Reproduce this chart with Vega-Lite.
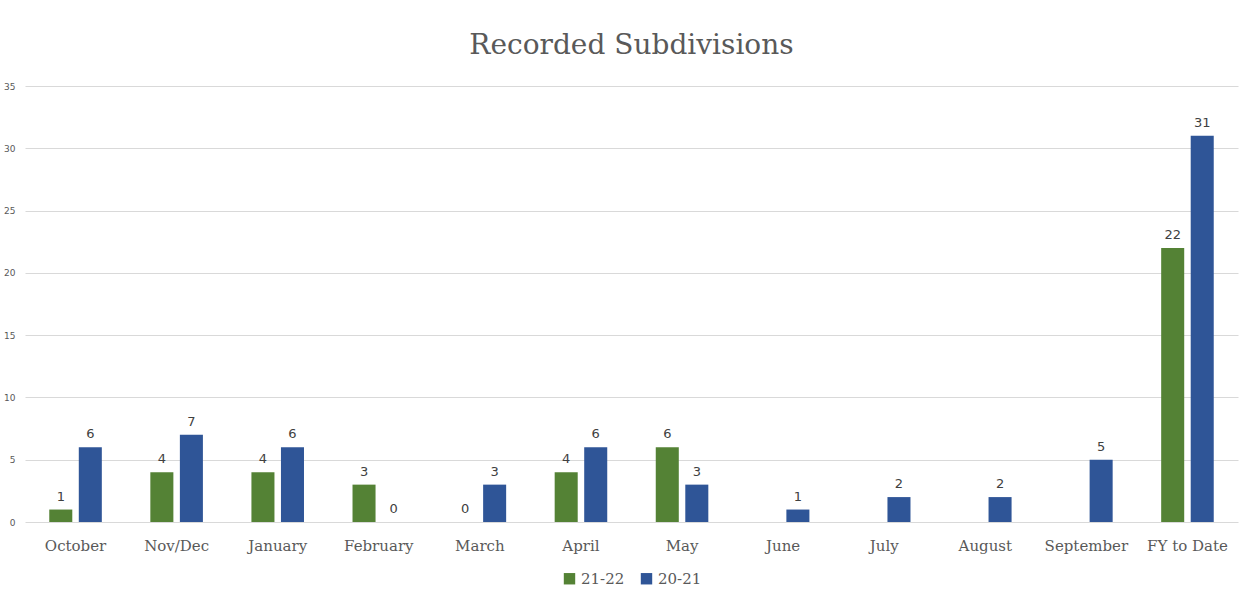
{
  "$schema": "https://vega.github.io/schema/vega-lite/v6.json",
  "width": 1213,
  "height": 436,
  "autosize": {"type": "none"},
  "padding": {"left": 25, "top": 86, "right": 15, "bottom": 70},
  "background": "white",
  "config": {
    "view": {"stroke": null},
    "legend": {"layout": {"bottom": {"anchor": "middle"}}}
  },
  "title": {
    "text": "Recorded Subdivisions",
    "font": "DejaVu Serif",
    "fontSize": 28,
    "fontWeight": "normal",
    "color": "#595959",
    "anchor": "middle",
    "offset": 22
  },
  "data": {
    "values": [
      {"month": "October", "series": "21-22", "value": 1},
      {"month": "October", "series": "20-21", "value": 6},
      {"month": "Nov/Dec", "series": "21-22", "value": 4},
      {"month": "Nov/Dec", "series": "20-21", "value": 7},
      {"month": "January", "series": "21-22", "value": 4},
      {"month": "January", "series": "20-21", "value": 6},
      {"month": "February", "series": "21-22", "value": 3},
      {"month": "February", "series": "20-21", "value": 0},
      {"month": "March", "series": "21-22", "value": 0},
      {"month": "March", "series": "20-21", "value": 3},
      {"month": "April", "series": "21-22", "value": 4},
      {"month": "April", "series": "20-21", "value": 6},
      {"month": "May", "series": "21-22", "value": 6},
      {"month": "May", "series": "20-21", "value": 3},
      {"month": "June", "series": "20-21", "value": 1},
      {"month": "July", "series": "20-21", "value": 2},
      {"month": "August", "series": "20-21", "value": 2},
      {"month": "September", "series": "20-21", "value": 5},
      {"month": "FY to Date", "series": "21-22", "value": 22},
      {"month": "FY to Date", "series": "20-21", "value": 31}
    ]
  },
  "encoding": {
    "x": {
      "field": "month",
      "type": "nominal",
      "sort": ["October", "Nov/Dec", "January", "February", "March", "April", "May", "June", "July", "August", "September", "FY to Date"],
      "scale": {"paddingInner": 0.48, "paddingOuter": 0.24},
      "axis": {
        "title": null,
        "labelAngle": 0,
        "labelFont": "DejaVu Serif",
        "labelFontSize": 15,
        "labelColor": "#595959",
        "labelPadding": 16,
        "ticks": false,
        "domain": false
      }
    },
    "xOffset": {
      "field": "series",
      "type": "nominal",
      "sort": ["21-22", "20-21"],
      "scale": {"domain": ["21-22", "20-21"], "paddingInner": 0.22}
    },
    "y": {
      "field": "value",
      "type": "quantitative",
      "scale": {"domain": [0, 35]},
      "axis": {
        "title": null,
        "values": [0, 5, 10, 15, 20, 25, 30, 35],
        "labelFont": "DejaVu Sans",
        "labelFontSize": 9,
        "labelColor": "#595959",
        "labelPadding": 10,
        "ticks": false,
        "domain": false,
        "gridColor": "#d9d9d9",
        "gridWidth": 1
      }
    }
  },
  "layer": [
    {
      "mark": {"type": "bar"},
      "encoding": {
        "color": {
          "field": "series",
          "type": "nominal",
          "scale": {"domain": ["21-22", "20-21"], "range": ["#548235", "#2F5597"]},
          "legend": {
            "title": null,
            "orient": "bottom",
            "direction": "horizontal",
            "symbolType": "square",
            "symbolSize": 130,
            "symbolStrokeWidth": 0,
            "labelFont": "DejaVu Serif",
            "labelFontSize": 15,
            "labelColor": "#595959",
            "columnPadding": 14,
            "offset": 18
          }
        }
      }
    },
    {
      "mark": {"type": "text", "dy": -13, "font": "DejaVu Sans", "fontSize": 13, "color": "#404040"},
      "encoding": {"text": {"field": "value", "type": "quantitative"}}
    }
  ]
}
